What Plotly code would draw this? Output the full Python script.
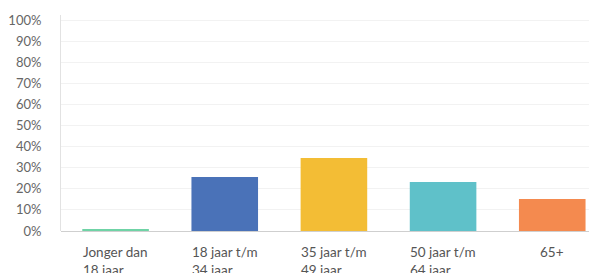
import plotly.graph_objects as go

categories = ["Jonger dan<br>18 jaar.", "18 jaar t/m<br>34 jaar.", "35 jaar t/m<br>49 jaar.",
              "50 jaar t/m<br>64 jaar.", "65+"]
values = [0.5, 25.6, 34.6, 23.2, 15.2]
colors = ["#6fd3a6", "#4a72b8", "#f3bd35", "#5fc1c9", "#f48a4f"]
tick_vals = list(range(0, 101, 10))
tick_text = [f"{v}%" for v in tick_vals]

x = list(range(len(categories)))
fig = go.Figure()
fig.add_trace(go.Bar(x=x, y=values, marker=dict(color=colors, line=dict(width=0)),
                     width=0.61, hoverinfo="skip"))

for i, c in enumerate(categories):
    fig.add_annotation(x=i, y=0, yref="y", xref="x", text=c, showarrow=False,
                       xanchor="center", yanchor="top", align="left", yshift=-11,
                       font=dict(family="Lato, Open Sans, sans-serif", size=13.5, color="#555555"))

fig.update_layout(
    width=589, height=265,
    margin=dict(l=53, r=0, t=7, b=42),
    paper_bgcolor="white", plot_bgcolor="white",
    showlegend=False,
    xaxis=dict(range=[-0.5, 4.41], showticklabels=False, showgrid=False, zeroline=False,
               showline=False, ticks=""),
    yaxis=dict(range=[0, 102.5], tickvals=tick_vals, ticktext=tick_text,
               showgrid=True, gridcolor="#f2f2f2", gridwidth=1, zeroline=True,
               zerolinecolor="#cfcfcf", zerolinewidth=1,
               showline=True, linecolor="#e2e2e2", linewidth=1,
               ticks="", ticklabelstandoff=16,
               tickfont=dict(family="Lato, Open Sans, sans-serif", size=13, color="#666666")),
)
fig.write_html("out.html")
